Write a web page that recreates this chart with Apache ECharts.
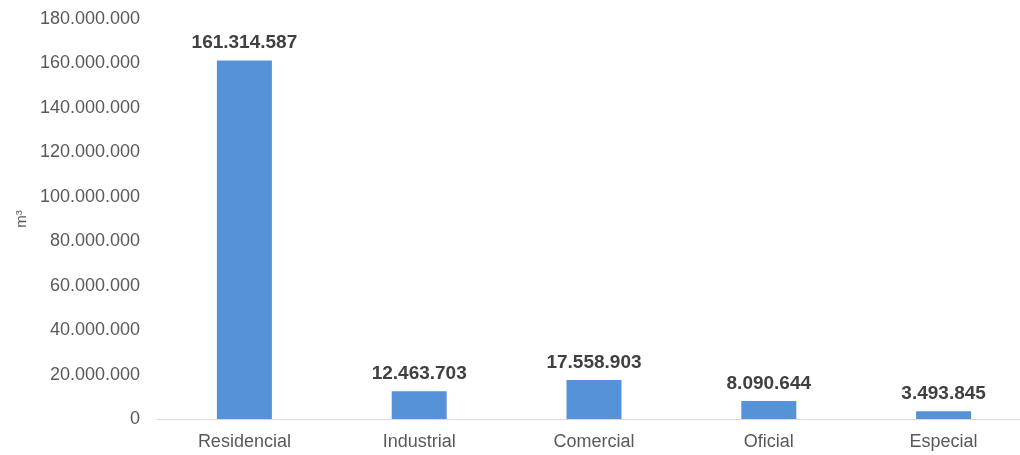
<!DOCTYPE html>
<html>
<head>
<meta charset="utf-8">
<script src="https://cdn.jsdelivr.net/npm/echarts@6/dist/echarts.min.js"></script>
<style>html,body{margin:0;padding:0;background:#fff;}#c{width:1020px;height:455px;}</style>
</head>
<body>
<div id="c"></div>
<script>
const categories = ['Residencial', 'Industrial', 'Comercial', 'Oficial', 'Especial'];
const values = [161314587, 12463703, 17558903, 8090644, 3493845];
const yAxisName = 'm³';

function fmt(v) {
  return String(Math.round(v)).replace(/\B(?=(\d{3})+(?!\d))/g, '.');
}

const chart = echarts.init(document.getElementById('c'));
chart.setOption({
  animation: false,
  textStyle: { fontFamily: 'Liberation Sans, Arial, sans-serif' },
  grid: { left: 157, right: -11, top: 19, bottom: 36, containLabel: false, outerBoundsMode: 'none' },
  xAxis: {
    type: 'category',
    data: categories,
    axisLine: { lineStyle: { color: '#d9d9d9', width: 1 } },
    axisTick: { show: false },
    axisLabel: { color: '#595959', fontSize: 18, margin: 14 }
  },
  yAxis: {
    type: 'value',
    min: 0, max: 180000000, interval: 20000000,
    name: yAxisName,
    nameLocation: 'middle',
    nameRotate: 90,
    nameGap: 128,
    nameTextStyle: { color: '#595959', fontSize: 15 },
    splitLine: { show: false },
    axisLine: { show: false },
    axisTick: { show: false },
    axisLabel: { color: '#595959', fontSize: 18, margin: 17, formatter: fmt }
  },
  series: [{
    type: 'bar',
    data: values,
    barWidth: 55,
    itemStyle: { color: '#5592d8' },
    label: {
      show: true, position: 'top', distance: 8,
      color: '#404040', fontSize: 19, fontWeight: 'bold',
      formatter: p => fmt(p.value)
    }
  }]
});
</script>
</body>
</html>
